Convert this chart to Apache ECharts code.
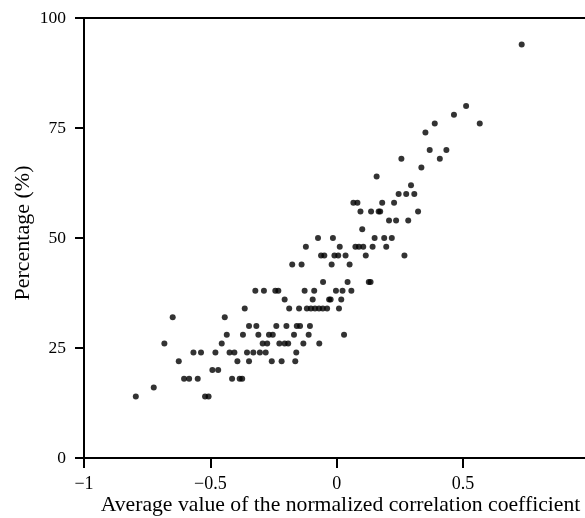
<!DOCTYPE html>
<html>
<head>
<meta charset="utf-8">
<script src="https://cdn.jsdelivr.net/npm/echarts@6/dist/echarts.min.js"></script>
<style>
html,body{margin:0;padding:0;background:#fff;overflow:hidden;}
#chart{width:585px;height:518px;}
</style>
</head>
<body>
<div id="chart"></div>
<script>
// Average normalized correlation coefficient (x) and percentage (y) for each point
const correlation = [
  -0.795, -0.521, -0.507,
  -0.724,
  -0.604, -0.584, -0.550, -0.414, -0.384, -0.374,
  -0.492, -0.469,
  -0.625, -0.393, -0.347, -0.257, -0.218, -0.164,
  -0.567, -0.537, -0.480, -0.424, -0.405, -0.355, -0.330, -0.304, -0.281, -0.160,
  -0.682, -0.455, -0.293, -0.275, -0.227, -0.206, -0.192, -0.132, -0.069,
  -0.435, -0.371, -0.310, -0.268, -0.253, -0.169, -0.111, 0.029,
  -0.347, -0.318, -0.239, -0.199, -0.158, -0.145, -0.106,
  -0.649, -0.443,
  -0.364, -0.188, -0.149, -0.118, -0.102, -0.086, -0.070, -0.055, -0.038, 0.009,
  -0.206, -0.095, -0.030, -0.024, 0.018,
  -0.322, -0.288, -0.243, -0.231, -0.127, -0.089, -0.003, 0.023, 0.058,
  -0.054, 0.043, 0.127, 0.134,
  -0.176, -0.139, -0.020, 0.051,
  -0.062, -0.049, -0.009, 0.006, 0.035, 0.115, 0.268,
  -0.122, 0.012, 0.074, 0.088, 0.105, 0.142, 0.196,
  -0.074, -0.015, 0.150, 0.188, 0.218,
  0.101,
  0.207, 0.235, 0.283,
  0.094, 0.136, 0.166, 0.172, 0.322,
  0.066, 0.082, 0.180, 0.227,
  0.245, 0.275, 0.307,
  0.294,
  0.158,
  0.335,
  0.256, 0.408,
  0.368, 0.434,
  0.351,
  0.388, 0.566,
  0.464,
  0.512,
  0.732
];
const percentage = [
  14, 14, 14,
  16,
  18, 18, 18, 18, 18, 18,
  20, 20,
  22, 22, 22, 22, 22, 22,
  24, 24, 24, 24, 24, 24, 24, 24, 24, 24,
  26, 26, 26, 26, 26, 26, 26, 26, 26,
  28, 28, 28, 28, 28, 28, 28, 28,
  30, 30, 30, 30, 30, 30, 30,
  32, 32,
  34, 34, 34, 34, 34, 34, 34, 34, 34, 34,
  36, 36, 36, 36, 36,
  38, 38, 38, 38, 38, 38, 38, 38, 38,
  40, 40, 40, 40,
  44, 44, 44, 44,
  46, 46, 46, 46, 46, 46, 46,
  48, 48, 48, 48, 48, 48, 48,
  50, 50, 50, 50, 50,
  52,
  54, 54, 54,
  56, 56, 56, 56, 56,
  58, 58, 58, 58,
  60, 60, 60,
  62,
  64,
  66,
  68, 68,
  70, 70,
  74,
  76, 76,
  78,
  80,
  94
];
const xTickValues = [-1, -0.5, 0, 0.5];
const xTickLabels = ['\u22121', '\u22120.5', '0', '0.5'];
const yTickValues = [0, 25, 50, 75, 100];

const points = correlation.map((x, i) => [x, percentage[i]]);
const FONT = 'Liberation Serif';
const xLabelFor = v => {
  const i = xTickValues.findIndex(t => Math.abs(t - v) < 1e-9);
  return i >= 0 ? xTickLabels[i] : '';
};

const chart = echarts.init(document.getElementById('chart'), null, {renderer: 'canvas'});
chart.setOption({
  animation: false,
  backgroundColor: '#fff',
  grid: {
    left: 84, right: -12, top: 18, bottom: 60,
    containLabel: false, outerBoundsMode: 'none',
    show: false
  },
  xAxis: [{
    type: 'value', min: -1, max: 1.03, interval: 0.5, position: 'bottom',
    splitLine: {show: false},
    axisLine: {show: true, onZero: false, lineStyle: {color: '#000', width: 2}},
    axisTick: {show: true, inside: false, length: 10, lineStyle: {color: '#000', width: 2}},
    axisLabel: {
      color: '#000', fontFamily: FONT, fontSize: 18, margin: 17,
      showMaxLabel: false, formatter: xLabelFor
    },
    name: 'Average value of the normalized correlation coefficient',
    nameLocation: 'middle', nameGap: 36, nameMoveOverlap: false,
    nameTextStyle: {color: '#000', fontFamily: FONT, fontSize: 21.7}
  }, {
    type: 'value', min: -1, max: 1.03, interval: 0.5, position: 'top',
    splitLine: {show: false},
    axisLine: {show: true, onZero: false, lineStyle: {color: '#000', width: 2}},
    axisTick: {show: false},
    axisLabel: {show: false}
  }],
  yAxis: {
    type: 'value', min: yTickValues[0], max: yTickValues[yTickValues.length - 1], interval: 25,
    splitLine: {show: false},
    axisLine: {show: true, onZero: false, lineStyle: {color: '#000', width: 2}},
    axisTick: {show: true, inside: false, length: 9, lineStyle: {color: '#000', width: 2}},
    axisLabel: {color: '#000', fontFamily: FONT, fontSize: 17.5, margin: 18},
    name: 'Percentage (%)',
    nameLocation: 'middle', nameGap: 50, nameMoveOverlap: false,
    nameTextStyle: {color: '#000', fontFamily: FONT, fontSize: 22, padding: [0, 0, 0, 10]}
  },
  series: [{
    type: 'scatter',
    xAxisIndex: 0,
    data: points,
    symbol: 'circle',
    symbolSize: 6,
    itemStyle: {color: '#000'}
  }]
});
</script>
</body>
</html>
